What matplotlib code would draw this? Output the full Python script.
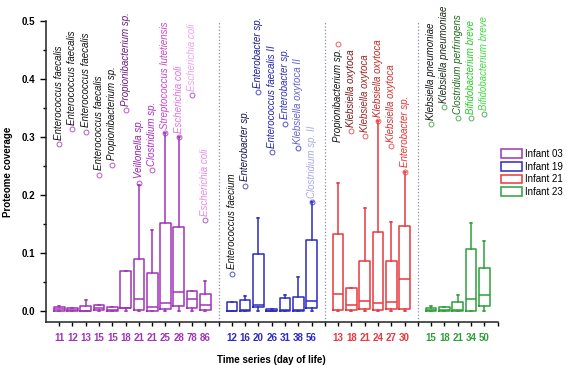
import matplotlib.pyplot as plt
from matplotlib.patches import Patch

plt.rcParams['font.family'] = ['Liberation Sans', 'DejaVu Sans']

# ------------------------------
# data
# ------------------------------
infants = ['Infant 03', 'Infant 19', 'Infant 21', 'Infant 23']
colors = ['#A033B8', '#2B2BC0', '#E8383D', '#2E9E3A']
n_per_infant = [12, 7, 6, 5]

days = ['11', '12', '13', '15', '15', '18', '21', '21', '25', '28', '78', '86',
        '12', '16', '20', '26', '31', '38', '56',
        '13', '18', '21', '24', '27', '30',
        '15', '18', '21', '34', '50']

q1 = [0.001, 0.000, 0.0006, 0.002, 0.0006, 0.005, 0.003, 0.000, 0.004, 0.009, 0.0063, 0.0023,
      0.0006, 0.0006, 0.007, 0.000, 0.0006, 0.0006, 0.005,
      0.0029, 0.003, 0.0035, 0.0023, 0.0035, 0.004,
      0.000, 0.0006, 0.0006, 0.001, 0.0092]
med = [0.004, 0.002, 0.001, 0.005, 0.003, 0.0063, 0.0207, 0.0075, 0.0138, 0.0328, 0.021, 0.011,
       0.001, 0.002, 0.011, 0.001, 0.003, 0.002, 0.017,
       0.029, 0.0115, 0.0178, 0.0138, 0.0155, 0.0563,
       0.002, 0.002, 0.002, 0.0218, 0.0276]
q3 = [0.0075, 0.0057, 0.0098, 0.0115, 0.008, 0.069, 0.091, 0.0655, 0.153, 0.146, 0.035, 0.029,
      0.0155, 0.019, 0.098, 0.0034, 0.0236, 0.0247, 0.123,
      0.1328, 0.041, 0.087, 0.137, 0.087, 0.148,
      0.0057, 0.0075, 0.0167, 0.107, 0.0753]
whis_hi = [0.0086, 0.0057, 0.020, 0.0115, 0.008, 0.069, 0.218, 0.141, 0.307, 0.300, 0.035, 0.052,
           0.0167, 0.026, 0.161, 0.0034, 0.028, 0.059, 0.188,
           0.2207, 0.041, 0.178, 0.328, 0.1546, 0.241,
           0.009, 0.0075, 0.0276, 0.152, 0.121]
whis_lo = [0.0] * len(days)

# top outlier of each time point and the organism it belongs to
outlier = [0.288, 0.314, 0.310, 0.236, 0.253, 0.347, 0.222, 0.244, 0.307, 0.300, 0.373, 0.157,
           0.065, 0.217, 0.378, 0.275, 0.324, 0.281, 0.188,
           0.462, 0.311, 0.302, 0.328, 0.285, 0.241,
           0.323, 0.352, 0.333, 0.333, 0.340]
organism = ['Enterococcus faecalis', 'Enterococcus faecalis', 'Enterococcus faecalis',
            'Enterococcus faecalis', 'Propionibacterium sp.', 'Propionibacterium sp.',
            'Veillonella sp.', 'Clostridium sp.', 'Streptococcus lutetiensis',
            'Escherichia coli', 'Escherichia coli', 'Escherichia coli',
            'Enterococcus faecium', 'Enterobacter sp.', 'Enterobacter sp.',
            'Enterococcus faecalis II', 'Enterobacter sp.', 'Klebsiella oxytoca II',
            'Clostridium sp. II',
            'Propionibacterium sp.', 'Klebsiella oxytoca', 'Klebsiella oxytoca',
            'Klebsiella oxytoca', 'Klebsiella oxytoca', 'Enterobacter sp.',
            'Klebsiella pneumoniae', 'Klebsiella pneumoniae', 'Clostridium perfringens',
            'Bifidobacterium breve', 'Bifidobacterium breve']
label_colors = ['#111111', '#111111', '#111111', '#111111', '#111111', '#6E1A80',
                '#9A1FB0', '#B02BC8', '#D040D0', '#E070E0', '#F0A0F0', '#E888E8',
                '#111111', '#12124F', '#1A1A90', '#2020B0', '#3030C0', '#6060D0', '#A8A8E8',
                '#111111', '#7A1515', '#A02020', '#C02828', '#D03030', '#F03030',
                '#111111', '#1A2A1A', '#1E6B1E', '#22CC22', '#44DD44']

# ------------------------------
# layout: one empty slot between infants
# ------------------------------
positions = []
box_colors = []
dividers = []
p = 0
for i, n in enumerate(n_per_infant):
    for k in range(n):
        positions.append(p)
        box_colors.append(colors[i])
        p += 1
    if i < len(n_per_infant) - 1:
        dividers.append(p)
        p += 1

fig = plt.figure(figsize=(5.67, 3.65), dpi=100)
ax = fig.add_axes([0.081, 0.1186, 0.7965, 0.8225])

for i in range(len(days)):
    stats = [{'q1': q1[i], 'med': med[i], 'q3': q3[i],
              'whislo': whis_lo[i], 'whishi': whis_hi[i], 'fliers': [outlier[i]]}]
    c = box_colors[i]
    ax.bxp(stats, positions=[positions[i]], widths=0.8, showfliers=True,
           boxprops=dict(color=c, linewidth=1.1),
           medianprops=dict(color=c, linewidth=1.1),
           whiskerprops=dict(color=c, linewidth=1.1),
           capprops=dict(color=c, linewidth=1.1),
           capwidths=0.15,
           flierprops=dict(marker='o', markersize=3.5, markerfacecolor='none',
                           markeredgecolor=c, markeredgewidth=0.7, alpha=0.8))

    below = outlier[i] > 0.42
    ax.annotate(organism[i], (positions[i], outlier[i]),
                xytext=(0, -3 if below else 3), textcoords='offset points',
                rotation=90, ha='center', va='top' if below else 'bottom',
                style='italic', fontsize=7, color=label_colors[i])

for d in dividers:
    ax.axvline(d, ymin=0, ymax=1, color='#8A8AA8', linestyle=':', linewidth=0.9)

ax.set_xlim(-1, 33)
ax.set_ylim(-0.018, 0.5)
ax.set_xticks(positions, days)
ax.set_xticks(range(0, 34), minor=True)
for lab, c in zip(ax.get_xticklabels(), box_colors):
    lab.set_color(c)
    lab.set_fontweight('bold')
ax.tick_params(axis='x', which='both', direction='out', length=3, width=1, labelsize=7, pad=5)

ax.set_yticks([0.0, 0.1, 0.2, 0.3, 0.4, 0.5])
ax.set_yticks([0.05, 0.15, 0.25, 0.35, 0.45], minor=True)
ax.set_yticklabels(['0.0', '0.1', '0.2', '0.3', '0.4', '0.5'], fontweight='bold')
ax.tick_params(axis='y', which='major', direction='out', length=4.5, width=1, labelsize=7)
ax.tick_params(axis='y', which='minor', direction='out', length=2.5, width=1)

for s in ['top', 'right']:
    ax.spines[s].set_visible(False)
for s in ['left', 'bottom']:
    ax.spines[s].set_linewidth(1.1)
    ax.spines[s].set_color('#222222')

ax.set_ylabel('Proteome coverage', fontweight='bold', fontsize=7, labelpad=6)
ax.set_xlabel('Time series (day of life)', fontweight='bold', fontsize=7, labelpad=9)

handles = [Patch(facecolor='white', edgecolor=c, linewidth=1.1, label=n)
           for n, c in zip(infants, colors)]
fig.legend(handles=handles, loc='upper left', bbox_to_anchor=(0.884, 0.592),
           frameon=False, fontsize=7, handlelength=2.1, handleheight=1.0,
           handletextpad=0.35, labelspacing=0.28, borderaxespad=0, borderpad=0)

fig.savefig('out.png', dpi=100)
